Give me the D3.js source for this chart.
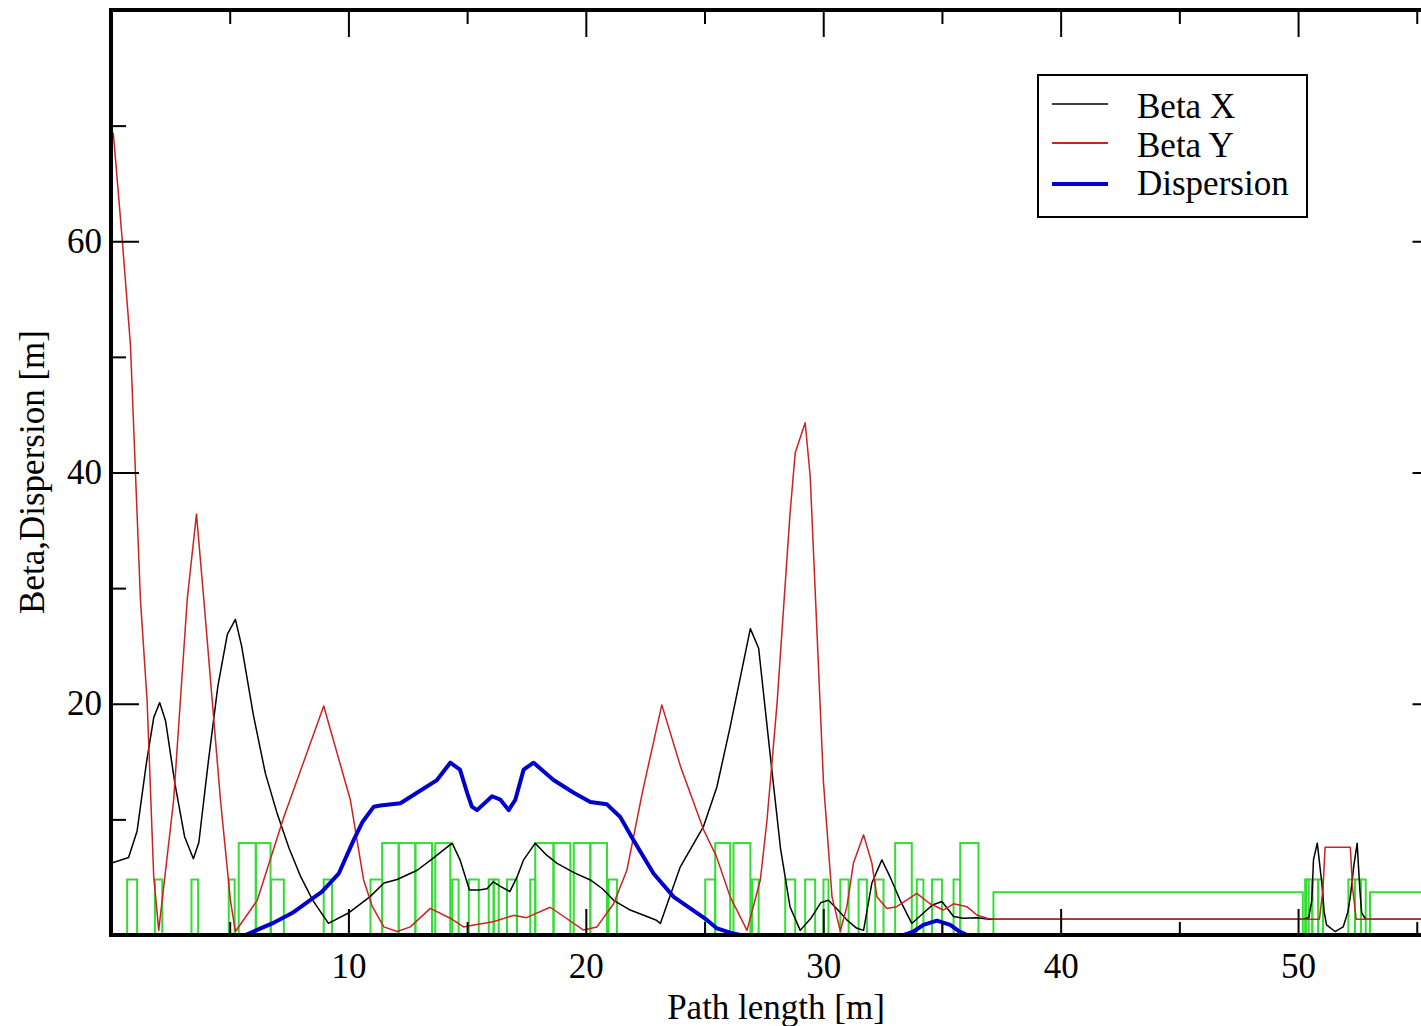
<!DOCTYPE html>
<html>
<head>
<meta charset="utf-8">
<script src="https://cdn.jsdelivr.net/npm/d3@7"></script>
<style>
  html, body { margin: 0; padding: 0; background: #fff; }
  svg { display: block; }
  text { font-family: "Liberation Serif", "Times New Roman", serif; }
</style>
</head>
<body>
<svg id="chart" width="1421" height="1026"></svg>
<script>
// ---------------- data ----------------
const xTickValues = [10, 20, 30, 40, 50];
const xMinorValues = [5, 15, 25, 35, 45, 55];
const yTickValues = [20, 40, 60];
const yMinorValues = [10, 30, 50, 70];

const seriesNames = ["Beta X", "Beta Y", "Dispersion"];

// Beta X : [s, beta]
const betaX = [
  [0, 6.2], [0.74, 6.7], [1.1, 9], [1.5, 15], [1.8, 18.8], [2.05, 20.1], [2.3, 18.5], [2.7, 13],
  [3.1, 8.5], [3.47, 6.6], [3.7, 8], [4.1, 15], [4.5, 21.5], [4.9, 26], [5.24, 27.3], [5.5, 25],
  [6.0, 19], [6.5, 14], [7.0, 10.5], [7.5, 7.5], [8.0, 5], [8.5, 3], [9.16, 1.0], [10.0, 1.9],
  [10.9, 3.3], [11.5, 4.5], [12.05, 4.8], [12.9, 5.6], [13.6, 6.7], [14.37, 7.94], [14.7, 6.5],
  [15.1, 3.9], [15.5, 3.9], [15.84, 4.0], [16.1, 4.6], [16.4, 4.2], [16.8, 3.75], [17.1, 5],
  [17.38, 6.5], [17.87, 7.94], [18.3, 7.0], [18.79, 6.2], [19.5, 5.4], [20.19, 4.76], [20.7, 4.0],
  [21.17, 3.0], [21.87, 2.16], [22.95, 1.3], [23.14, 1.0], [23.98, 5.9], [24.96, 9.4], [25.52, 12.8],
  [26.08, 18.0], [26.93, 26.5], [27.28, 24.8], [27.77, 15.5], [28.2, 7.5], [28.6, 2.45], [29.03, 0.4],
  [29.5, 1.5], [29.9, 2.8], [30.22, 3.0], [30.6, 2.2], [31.0, 1.3], [31.4, 0.6], [31.7, 0.4],
  [32.05, 4.5], [32.47, 6.5], [32.82, 5.0], [33.24, 3.0], [33.73, 1.0], [34.22, 1.9], [34.6, 2.6],
  [35.0, 2.9], [35.49, 1.6], [35.9, 1.45], [36.47, 1.5], [37.0, 1.36], [50.2, 1.36], [50.45, 1.5],
  [50.58, 3], [50.65, 6.5], [50.81, 7.94], [51.0, 4.5], [51.1, 2.0], [51.2, 0.87], [51.56, 0.3],
  [51.9, 0.7], [52.1, 2], [52.2, 3.3], [52.35, 6], [52.49, 7.94], [52.6, 4], [52.68, 1.9],
  [52.85, 1.36], [56, 1.36]
];

// Beta Y : [s, beta]
const betaY = [
  [0, 69.5], [0.1, 69.3], [0.47, 60.2], [0.82, 51.0], [1.24, 29.0], [1.52, 20.3], [1.80, 5.05],
  [2.01, 0.4], [2.64, 11.7], [3.21, 29.0], [3.6, 36.4], [3.91, 29.0], [4.61, 11.7], [5.03, 3.0],
  [5.24, 0.3], [6.16, 3.0], [7.28, 10.2], [8.96, 19.8], [10.08, 11.7], [10.64, 4.76], [11.0, 2.5],
  [11.49, 0.7], [12.05, 0.3], [12.61, 0.7], [13.45, 2.3], [14.29, 1.45], [14.85, 0.7], [15.28, 0.87],
  [16.1, 1.15], [16.96, 1.7], [17.5, 1.5], [18.5, 2.4], [19.07, 1.6], [19.9, 0.43], [20.47, 0.7],
  [21.17, 2.7], [21.73, 5.6], [22.4, 12.5], [23.2, 19.9], [24.0, 14.5], [24.96, 9.1], [25.5, 6.8],
  [26.08, 3.3], [26.79, 0.4], [27.35, 4.76], [27.63, 9.9], [28.05, 19.9], [28.6, 36.4], [28.82, 41.7],
  [29.24, 44.3], [29.45, 39.7], [29.73, 26.5], [30.01, 13.2], [30.37, 3.3], [30.72, 0.35], [31.0, 2.5],
  [31.27, 6.2], [31.7, 8.66], [32.05, 6.2], [32.26, 3.3], [32.68, 2.3], [33.1, 2.45], [33.94, 3.6],
  [34.5, 2.7], [35.06, 2.16], [35.49, 2.7], [36.05, 2.45], [36.47, 1.73], [36.89, 1.45], [37.2, 1.36],
  [50.9, 1.36], [51.05, 4], [51.14, 7.6], [52.2, 7.6], [52.3, 4], [52.45, 1.36], [56, 1.36]
];

// Dispersion : [s, D]  (null = gap)
const dispersion = [
  [5.66, 0], [6.79, 1.0], [7.63, 1.9], [8.89, 3.75], [9.59, 5.3], [10.22, 8.2], [10.6, 9.8],
  [11.07, 11.1], [11.35, 11.2], [12.19, 11.4], [12.89, 12.3], [13.73, 13.4], [14.29, 14.9],
  [14.7, 14.3], [15.0, 12.3], [15.2, 11.1], [15.42, 10.8], [16.05, 12.0], [16.4, 11.7], [16.75, 10.8],
  [17.03, 11.7], [17.38, 14.3], [17.8, 14.9], [18.64, 13.4], [19.49, 12.3], [20.19, 11.5],
  [20.89, 11.3], [21.45, 10.2], [22.01, 8.2], [22.86, 5.3], [23.7, 3.3], [24.4, 2.3], [25.1, 1.3],
  [25.5, 0.6], [26.08, 0.2], [26.5, 0],
  null,
  [33.4, 0], [33.8, 0.3], [34.22, 0.87], [34.79, 1.24], [35.35, 0.87], [35.7, 0.35], [36.05, 0]
];

// Lattice elements: start, end, height
const elemStart  = [0.68, 1.85, 3.39, 4.96, 5.38, 6.10, 6.74, 8.96, 10.93, 11.42, 12.12, 12.82, 13.66,
  14.37, 15.07, 15.91, 16.12, 16.68, 17.66, 17.87, 18.64, 19.49, 20.19, 20.96, 25.03, 25.45, 26.22,
  27.00, 28.40, 29.24, 30.01, 30.72, 31.49, 32.19, 33.03, 33.94, 34.58, 35.49, 35.77, 37.17, 50.30,
  50.35, 50.60, 50.85, 52.12, 52.40, 52.65, 53.03];
const elemEnd    = [1.10, 2.16, 3.67, 5.21, 6.10, 6.72, 7.28, 9.31, 11.42, 12.12, 12.82, 13.52, 14.29,
  14.64, 15.49, 16.12, 16.33, 17.10, 17.87, 18.64, 19.35, 20.19, 20.89, 21.31, 25.45, 26.08, 26.93,
  27.28, 28.82, 29.66, 30.22, 31.07, 31.84, 32.54, 33.73, 34.22, 35.00, 35.77, 36.54, 50.20, 50.45,
  50.60, 50.85, 51.05, 52.40, 52.65, 52.85, 57.0];
const elemHeight = [4.8, 4.8, 4.8, 4.8, 7.95, 7.95, 4.8, 4.8, 4.8, 7.95, 7.95, 7.95, 7.95,
  4.8, 4.8, 4.8, 4.8, 4.8, 4.8, 7.95, 7.95, 7.95, 7.95, 4.8, 4.8, 7.95, 7.95,
  4.8, 4.8, 4.8, 4.8, 4.8, 4.8, 4.8, 7.95, 4.8, 4.8, 4.8, 7.95, 3.7, 4.8,
  4.8, 4.8, 4.8, 4.8, 4.8, 4.8, 3.7];

// ---------------- layout ----------------
(function () {
const svg = d3.select("#chart");
const pLeft = 111, pRight = 1440.5, pTop = 10, pBottom = 935;

const x = d3.scaleLinear().domain([0, 56]).range([pLeft, pRight]);
const y = d3.scaleLinear().domain([0, 80]).range([pBottom, pTop]);

const FONT = 35;

svg.append("defs").append("clipPath").attr("id", "plotclip")
  .append("rect").attr("x", pLeft).attr("y", pTop).attr("width", pRight - pLeft).attr("height", pBottom - pTop);

const plot = svg.append("g").attr("clip-path", "url(#plotclip)");

// lattice elements
const elems = elemStart.map((s, i) => ({ s: s, e: elemEnd[i], h: elemHeight[i] }));
plot.append("g").selectAll("rect").data(elems).join("rect")
  .attr("x", d => x(d.s))
  .attr("y", d => y(d.h))
  .attr("width", d => x(d.e) - x(d.s))
  .attr("height", d => y(0) - y(d.h))
  .attr("fill", "none")
  .attr("stroke", "#33dd33")
  .attr("stroke-width", 2);

const line = d3.line()
  .defined(d => d !== null)
  .x(d => x(d[0]))
  .y(d => y(d[1]));

plot.append("path").datum(betaX).attr("d", line)
  .attr("fill", "none").attr("stroke", "#000").attr("stroke-width", 1.5).attr("stroke-linejoin", "round");
plot.append("path").datum(betaY).attr("d", line)
  .attr("fill", "none").attr("stroke", "#cc2222").attr("stroke-width", 1.5).attr("stroke-linejoin", "round");
plot.append("path").datum(dispersion).attr("d", line)
  .attr("fill", "none").attr("stroke", "#0000cc").attr("stroke-width", 4).attr("stroke-linejoin", "round");

function styleAxis(g) {
  g.select(".domain").remove();
  g.selectAll(".tick line").attr("stroke", "#000").attr("stroke-width", 2);
  g.selectAll(".tick text").attr("font-family", "Liberation Serif, Times New Roman, serif")
    .attr("font-size", FONT).attr("fill", "#000");
}

svg.append("g").attr("transform", `translate(0,${pBottom})`)
  .call(d3.axisBottom(x).tickValues(xTickValues).tickSize(-26).tickPadding(18).tickFormat(d3.format("d")))
  .call(styleAxis);
svg.append("g").attr("transform", `translate(0,${pBottom})`)
  .call(d3.axisBottom(x).tickValues(xMinorValues).tickSize(-13).tickFormat(""))
  .call(styleAxis);
svg.append("g").attr("transform", `translate(0,${pTop})`)
  .call(d3.axisTop(x).tickValues(xTickValues).tickSize(-27).tickFormat(""))
  .call(styleAxis);
svg.append("g").attr("transform", `translate(0,${pTop})`)
  .call(d3.axisTop(x).tickValues(xMinorValues).tickSize(-14).tickFormat(""))
  .call(styleAxis);
svg.append("g").attr("transform", `translate(${pLeft},0)`)
  .call(d3.axisLeft(y).tickValues(yTickValues).tickSize(-28).tickPadding(9).tickFormat(d3.format("d")))
  .call(styleAxis);
svg.append("g").attr("transform", `translate(${pLeft},0)`)
  .call(d3.axisLeft(y).tickValues(yMinorValues).tickSize(-15).tickFormat(""))
  .call(styleAxis);
svg.append("g").attr("transform", `translate(${pRight},0)`)
  .call(d3.axisRight(y).tickValues(yTickValues).tickSize(-28).tickFormat(""))
  .call(styleAxis);
svg.append("g").attr("transform", `translate(${pRight},0)`)
  .call(d3.axisRight(y).tickValues(yMinorValues).tickSize(-15).tickFormat(""))
  .call(styleAxis);

svg.append("rect")
  .attr("x", pLeft).attr("y", pTop).attr("width", pRight - pLeft).attr("height", pBottom - pTop)
  .attr("fill", "none").attr("stroke", "#000").attr("stroke-width", 4);

svg.append("text")
  .attr("x", 776).attr("y", 1019)
  .attr("text-anchor", "middle").attr("font-size", FONT)
  .text("Path length [m]");
svg.append("text")
  .attr("transform", "translate(44,472) rotate(-90)")
  .attr("text-anchor", "middle").attr("font-size", FONT)
  .text("Beta,Dispersion [m]");

const legend = svg.append("g");
legend.append("rect")
  .attr("x", 1038).attr("y", 75).attr("width", 269).attr("height", 142)
  .attr("fill", "#fff").attr("stroke", "#000").attr("stroke-width", 2);
const legColors = ["#000", "#cc2222", "#0000cc"];
const legWidths = [1.5, 2, 4];
const legLineY = [104, 143, 184];
const legTextY = [118, 157, 195];
seriesNames.forEach((name, i) => {
  legend.append("line")
    .attr("x1", 1052).attr("x2", 1108).attr("y1", legLineY[i]).attr("y2", legLineY[i])
    .attr("stroke", legColors[i]).attr("stroke-width", legWidths[i]);
  legend.append("text")
    .attr("x", 1137).attr("y", legTextY[i]).attr("font-size", FONT)
    .text(name);
});
})();
</script>
</body>
</html>
